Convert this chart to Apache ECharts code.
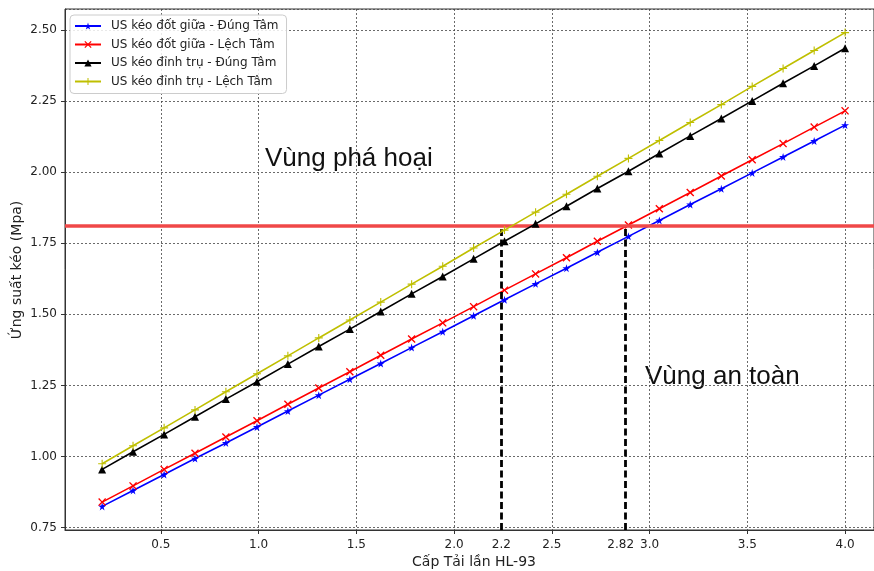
<!DOCTYPE html>
<html>
<head>
<meta charset="utf-8">
<script src="https://cdn.jsdelivr.net/npm/echarts@6/dist/echarts.min.js"></script>
<style>html,body{margin:0;padding:0;background:#fff;}#c{width:874px;height:571px;}</style>
</head>
<body>
<div id="c"></div>
<script>
const xValues = [0.2, 0.358, 0.517, 0.675, 0.833, 0.992, 1.15, 1.308, 1.467, 1.625, 1.783, 1.942, 2.1, 2.258, 2.417, 2.575, 2.733, 2.892, 3.05, 3.208, 3.367, 3.525, 3.683, 3.842, 4.0];
const seriesNames = ['US kéo đốt giữa - Đúng Tâm', 'US kéo đốt giữa - Lệch Tâm', 'US kéo đỉnh trụ - Đúng Tâm', 'US kéo đỉnh trụ - Lệch Tâm'];
const blueValues = [0.825, 0.881, 0.937, 0.993, 1.048, 1.104, 1.160, 1.216, 1.272, 1.327, 1.383, 1.439, 1.495, 1.551, 1.607, 1.662, 1.718, 1.774, 1.830, 1.886, 1.941, 1.997, 2.053, 2.109, 2.165];
const redValues = [0.840, 0.897, 0.955, 1.012, 1.069, 1.126, 1.184, 1.241, 1.298, 1.356, 1.413, 1.470, 1.527, 1.585, 1.642, 1.699, 1.757, 1.814, 1.871, 1.928, 1.986, 2.043, 2.100, 2.158, 2.215];
const blackValues = [0.955, 1.017, 1.078, 1.140, 1.202, 1.263, 1.325, 1.387, 1.448, 1.510, 1.572, 1.633, 1.695, 1.757, 1.818, 1.880, 1.942, 2.003, 2.065, 2.127, 2.188, 2.250, 2.312, 2.373, 2.435];
const yellowValues = [0.975, 1.038, 1.101, 1.164, 1.228, 1.291, 1.354, 1.417, 1.480, 1.543, 1.606, 1.669, 1.733, 1.796, 1.859, 1.922, 1.985, 2.048, 2.111, 2.174, 2.237, 2.301, 2.364, 2.427, 2.490];
const limitValue = 1.81;
const markerXs = [2.242, 2.878];
const markerLabels = ['2.2', '2.82'];
const xMin = 0.01, xMax = 4.148, yMin = 0.742, yMax = 2.573;

const FONT = 'DejaVu Sans';
const starPath = 'path://M50,0 L61,35 L98,35 L68,57 L79,91 L50,70 L21,91 L32,57 L2,35 L39,35 Z';
const xPath = 'path://M0,12 L12,0 L50,38 L88,0 L100,12 L62,50 L100,88 L88,100 L50,62 L12,100 L0,88 L38,50 Z';
const plusPath = 'path://M43,0 H57 V43 H100 V57 H57 V100 H43 V57 H0 V43 H43 Z';

function zip(ys) { return xValues.map((x, i) => [x, ys[i]]); }

const colors = ['#0000ff', '#ff0000', '#000000', '#bfbf00'];
const symbols = [starPath, xPath, 'triangle', plusPath];
const symbolSizes = [8, 8, 8, 8];
const datasets = [blueValues, redValues, blackValues, yellowValues];

const series = seriesNames.map((n, i) => ({
  name: n, type: 'line', data: zip(datasets[i]),
  symbol: symbols[i], symbolSize: symbolSizes[i], showSymbol: true,
  lineStyle: { color: colors[i], width: 1.6 },
  itemStyle: { color: colors[i], borderWidth: 0 },
  z: 3 + i, animation: false
}));

const TICK_FS = 12;
const tickLabelStyle = { color: '#222', fontFamily: FONT, fontSize: TICK_FS, distance: 9 };
series.push({
  name: 'helper', type: 'line', data: [], animation: false, silent: true,
  markLine: {
    symbol: 'none', silent: true, animation: false,
    data: [
      [{ coord: [xMin, limitValue], lineStyle: { color: '#f04848', width: 3.5, type: 'solid' }, label: { show: false } },
       { coord: [xMax, limitValue] }],
      [{ coord: [markerXs[0], yMin], lineStyle: { color: '#000', width: 2.8, type: [7, 3.5] },
         label: Object.assign({ show: true, position: 'start', formatter: markerLabels[0] }, tickLabelStyle) },
       { coord: [markerXs[0], limitValue] }],
      [{ coord: [markerXs[1], yMin], lineStyle: { color: '#000', width: 2.8, type: [7, 3.5] },
         label: Object.assign({ show: true, position: 'start', formatter: markerLabels[1], offset: [-5, 0] }, tickLabelStyle) },
       { coord: [markerXs[1], limitValue] }]
    ]
  }
});

const chart = echarts.init(document.getElementById('c'), null, { renderer: 'canvas' });
chart.setOption({
  animation: false,
  backgroundColor: '#fff',
  textStyle: { fontFamily: FONT },
  grid: { left: 65, top: 9, right: -1, bottom: 41, show: true, borderColor: '#333', borderWidth: 1, backgroundColor: 'transparent' },
  legend: {
    data: seriesNames, orient: 'vertical', left: 70, top: 15,
    padding: [5, 8, 6, 4], itemGap: 6.5, itemWidth: 26, itemHeight: 9,
    borderColor: '#cccccc', borderWidth: 1, borderRadius: 4, backgroundColor: 'rgba(255,255,255,0.85)',
    textStyle: { fontFamily: FONT, fontSize: 12, color: '#222', padding: [0, 0, 0, 5] }
  },
  xAxis: {
    type: 'value', min: xMin, max: xMax, splitNumber: 8, minInterval: 0.5, maxInterval: 0.5,
    axisLine: { show: true, lineStyle: { color: '#333' } },
    axisTick: { show: true, length: 4, lineStyle: { color: '#333' } },
    axisLabel: { color: '#222', fontFamily: FONT, fontSize: TICK_FS, margin: 9, showMinLabel: false, showMaxLabel: false,
      formatter: v => (Math.abs(v * 2 - Math.round(v * 2)) < 1e-6 ? v.toFixed(1) : '') },
    splitLine: { show: true, lineStyle: { color: '#444', width: 0.8, type: [2, 2] } }
  },
  yAxis: {
    type: 'value', min: yMin, max: yMax, splitNumber: 7, minInterval: 0.25, maxInterval: 0.25,
    axisLine: { show: true, lineStyle: { color: '#333' } },
    axisTick: { show: true, length: 4, lineStyle: { color: '#333' } },
    axisLabel: { color: '#222', fontFamily: FONT, fontSize: TICK_FS, margin: 8, showMinLabel: false, showMaxLabel: false,
      formatter: v => (Math.abs(v * 4 - Math.round(v * 4)) < 1e-6 ? v.toFixed(2) : '') },
    splitLine: { show: true, lineStyle: { color: '#444', width: 0.8, type: [2, 2] } }
  },
  graphic: [
    { type: 'text', x: 474, y: 562, style: { text: 'Cấp Tải lần HL-93', fontFamily: FONT, fontSize: 14, fill: '#222', align: 'center', verticalAlign: 'middle' } },
    { type: 'text', x: 17, y: 270, rotation: Math.PI / 2, style: { text: 'Ứng suất kéo (Mpa)', fontFamily: FONT, fontSize: 14, fill: '#222', align: 'center', verticalAlign: 'middle' } },
    { type: 'text', left: 265, top: 146, style: { text: 'Vùng phá hoại', fontFamily: 'Liberation Sans', fontSize: 26, fill: '#111' } },
    { type: 'text', left: 645, top: 364, style: { text: 'Vùng an toàn', fontFamily: 'Liberation Sans', fontSize: 26, fill: '#111' } }
  ],
  series: series
});
</script>
</body>
</html>
